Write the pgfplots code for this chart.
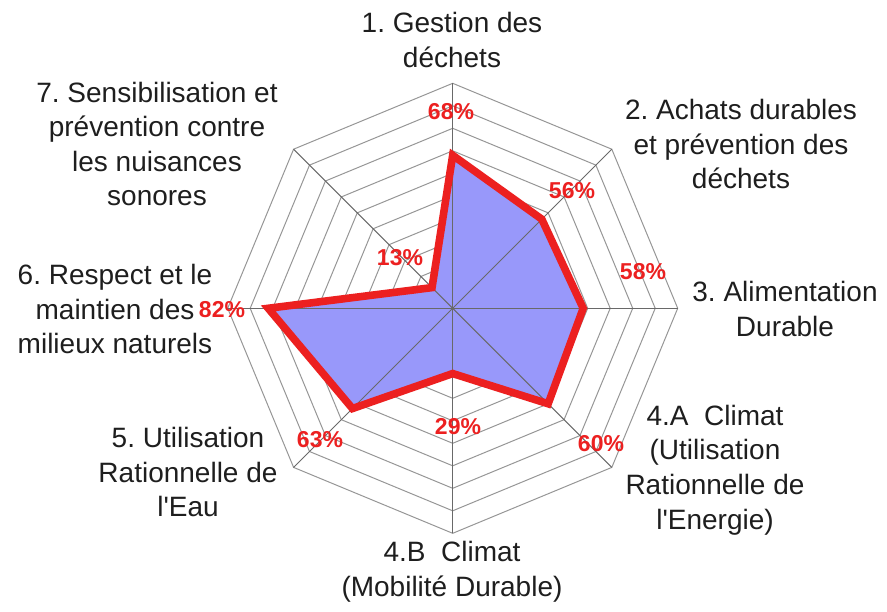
\documentclass[border=0pt]{standalone}
\usepackage{pgfplots}
\pgfplotsset{compat=1.18}
\usepgfplotslibrary{polar}
\usepackage{fontspec}
\setmainfont{Liberation Sans}
\frenchspacing
\definecolor{fillblue}{RGB}{152,152,250}
\definecolor{lred}{RGB}{236,32,32}
\definecolor{gridgray}{RGB}{150,150,150}
\definecolor{txt}{RGB}{30,30,30}
\begin{document}
\begin{tikzpicture}
\begin{polaraxis}[
  hide axis, scale only axis, width=225pt, height=225pt,
  ymin=0, ymax=100, xmin=0, xmax=360, clip=false,
]
% rings
\pgfplotsinvokeforeach{10,20,30,40,50,60,70,80,90,100}{
  \addplot[gridgray, line width=0.5pt, no markers] coordinates {(90,#1) (45,#1) (0,#1) (-45,#1) (-90,#1) (-135,#1) (180,#1) (135,#1) (90,#1)};
}
% filled data
\addplot[draw=none, fill=fillblue, no markers] coordinates {(90,68) (45,56) (0,58) (-45,60) (-90,29) (-135,63) (180,82) (135,13) (90,68)} -- cycle;
% spokes
\pgfplotsinvokeforeach{90,45,0,-45,-90,-135,180,135}{
  \addplot[gridgray!70!black, line width=0.5pt, no markers] coordinates {(#1,0) (#1,100)};
}
% outline
\addplot[lred, line width=3.8pt, line join=miter, no markers] coordinates {(90,68) (45,56) (0,58) (-45,60) (-90,29) (-135,63) (180,82) (135,13) (90,68)} -- cycle;
\coordinate (O) at (axis cs:0,0);
\end{polaraxis}
\begin{scope}[shift={(O)}, x=0.5pt, y=-0.5pt, shift={(-452.7,-308.3)}]
\useasboundingbox (0,0) rectangle (887,611);
\tikzset{lab/.style={align=center, text=txt, font=\fontsize{14}{17.3}\selectfont, inner sep=0pt},
         pct/.style={text=lred, font=\fontsize{11.5}{13}\selectfont\bfseries, inner sep=0pt}}
\node[lab] at (452,40) {1. Gestion des\\déchets};
\node[lab] at (741,144) {2. Achats durables\\et prévention des\\déchets};
\node[lab] at (785,309) {3. Alimentation\\Durable};
\node[lab] at (715,470) {4.A\ \ Climat\\(Utilisation\\Rationnelle de\\l\textquotesingle Energie)};
\node[lab] at (452,572) {4.B\ \ Climat\\(Mobilité Durable)};
\node[lab] at (188,472) {5. Utilisation\\Rationnelle de\\l\textquotesingle Eau};
\node[lab] at (115,309) {6. Respect et le\\maintien des\\milieux naturels};
\node[lab] at (157,144) {7. Sensibilisation et\\prévention contre\\les nuisances\\sonores};
\node[pct] at (451,112) {68\%};
\node[pct] at (572,191) {56\%};
\node[pct] at (643,272) {58\%};
\node[pct] at (601,444) {60\%};
\node[pct] at (458,427) {29\%};
\node[pct] at (320,440) {63\%};
\node[pct] at (222,310) {82\%};
\node[pct] at (400,258) {13\%};
\end{scope}
\end{tikzpicture}
\end{document}
